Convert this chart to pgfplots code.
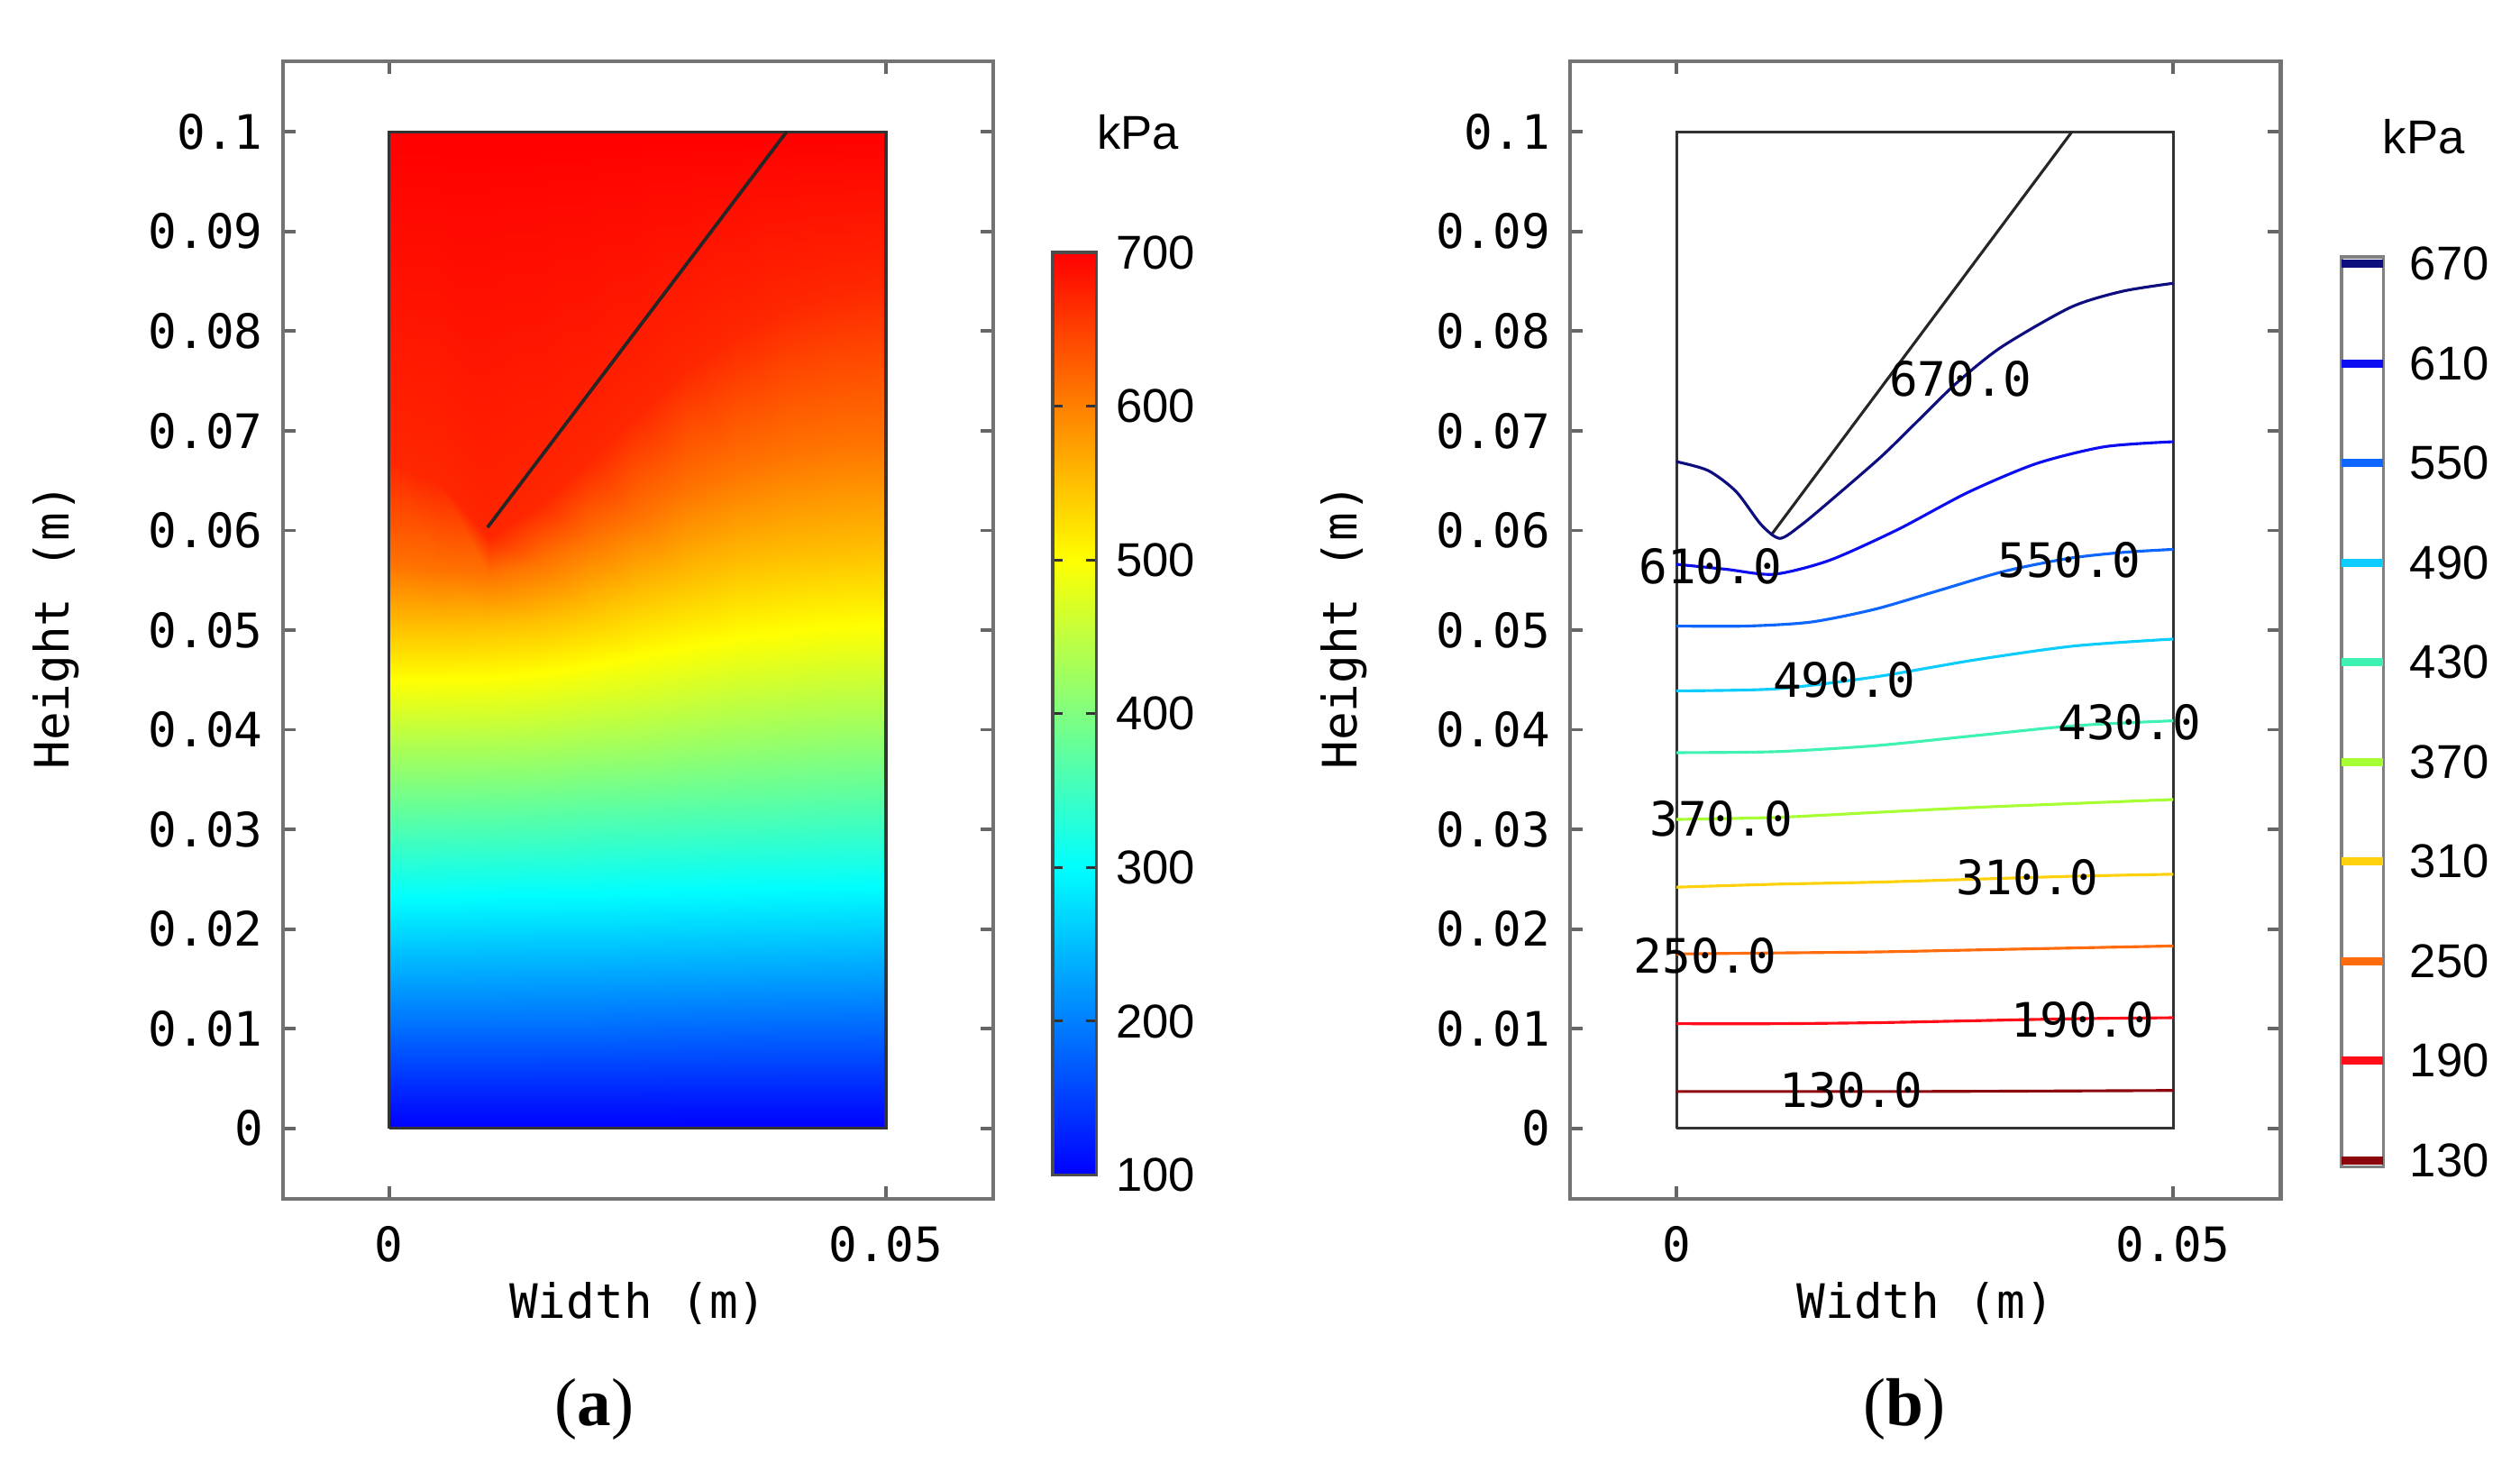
\documentclass[border=0pt]{standalone}
\usepackage{pgfplots}
\pgfplotsset{compat=1.18}
\usepackage{fontspec}
\setmainfont{Liberation Sans}
\newfontfamily\monof{DejaVu Sans Mono}
\newfontfamily\seriff{Liberation Serif}

% contour level colours (reversed jet)
\definecolor{c130}{rgb}{0.55,0.02,0.05}
\definecolor{c190}{rgb}{1,0.05,0.1}
\definecolor{c250}{rgb}{1,0.42,0.05}
\definecolor{c310}{rgb}{1,0.82,0.05}
\definecolor{c370}{rgb}{0.65,1,0.2}
\definecolor{c430}{rgb}{0.25,0.95,0.7}
\definecolor{c490}{rgb}{0.05,0.8,1}
\definecolor{c550}{rgb}{0.05,0.4,1}
\definecolor{c610}{rgb}{0.05,0.05,0.95}
\definecolor{c670}{rgb}{0.05,0.05,0.5}

\newcommand{\lab}{\fontsize{8.4}{10}\selectfont}

\pgfplotsset{
  panel/.style={
    scale only axis, width=44.2mm, height=70.8mm,
    xmin=-0.0107, xmax=0.0608, ymin=-0.0071, ymax=0.1071,
    axis line style={draw=black!55, line width=0.7pt},
    tick style={black!60, line width=0.6pt},
    major tick length=0.8mm,
    tick align=inside,
    scaled ticks=false,
    xtick={0,0.05}, xticklabels={0,0.05},
    ytick={0,0.01,0.02,0.03,0.04,0.05,0.06,0.07,0.08,0.09,0.1},
    yticklabels={0,0.01,0.02,0.03,0.04,0.05,0.06,0.07,0.08,0.09,0.1},
    tick label style={font=\monof\lab},
    xticklabel style={anchor=center, yshift=-2.8mm},
    label style={font=\monof\lab},
    xlabel={Width (m)}, ylabel={Height (m)},
    xlabel style={at={(axis description cs:0.5,-0.092)}, anchor=center},
    ylabel style={at={(axis description cs:-0.319,0.503)}, anchor=center},
    clip=false,
  },
  cline/.style={line width=0.5pt, smooth, tension=0.45},
}

\begin{document}
\begin{tikzpicture}
\useasboundingbox (0,0) rectangle (156.8mm,91mm);

% ---------------- (a) pressure field ----------------
\begin{axis}[panel, at={(17.6mm,16.4mm)}, anchor=south west,
  colormap={rb}{rgb255(0cm)=(0,0,255); rgb255(1cm)=(0,255,255); rgb255(2cm)=(255,255,0); rgb255(3cm)=(255,0,0)},
  point meta min=100, point meta max=700,
  colorbar,
  colorbar shift/.style={xshift=3.7mm, yshift=1.5mm},
  colorbar style={
    at={(parent axis.south east)}, anchor=south west,
    scale only axis, width=2.7mm, height=57.4mm,
    ytick={100,200,300,400,500,600,700},
    yticklabels={100,200,300,400,500,600,700},
    yticklabel style={font=\lab},
    yticklabel pos=right,
    ytick pos=both,
    tick align=inside,
    major tick length=0.6mm,
    tick style={black!80, line width=0.5pt},
    axis line style={black!70, line width=0.5pt},
  },
]
\addplot[surf, shader=interp, point meta=explicit] table[x=x, y=y, meta=p] {
x y p
0 0 100
0 0.0037 130
0 0.0105 190
0 0.0175 250
0 0.0242 310
0 0.0310 370
0 0.0377 430
0 0.0439 490
0 0.0504 550
0 0.0566 610
0 0.0669 670
0 0.1 700

0.005 0 100
0.005 0.0037 130
0.005 0.0105 190
0.005 0.0175 250
0.005 0.0243 310
0.005 0.0311 370
0.005 0.0377 430
0.005 0.0440 490
0.005 0.0504 550
0.005 0.0561 610
0.005 0.0648 670
0.005 0.1 700

0.01 0 100
0.01 0.0037 130
0.01 0.0105 190
0.01 0.0176 250
0.01 0.0245 310
0.01 0.0312 370
0.01 0.0378 430
0.01 0.0441 490
0.01 0.0505 550
0.01 0.0556 610
0.01 0.0593 670
0.01 0.1 700

0.015 0 100
0.015 0.0037 130
0.015 0.0106 190
0.015 0.0177 250
0.015 0.0246 310
0.015 0.0314 370
0.015 0.0380 430
0.015 0.0446 490
0.015 0.0510 550
0.015 0.0568 610
0.015 0.0626 670
0.015 0.1 700

0.02 0 100
0.02 0.0037 130
0.02 0.0106 190
0.02 0.0177 250
0.02 0.0247 310
0.02 0.0317 370
0.02 0.0384 430
0.02 0.0453 490
0.02 0.0521 550
0.02 0.0590 610
0.02 0.0669 670
0.02 0.1 700

0.025 0 100
0.025 0.0037 130
0.025 0.0107 190
0.025 0.0178 250
0.025 0.0249 310
0.025 0.0319 370
0.025 0.0388 430
0.025 0.0461 490
0.025 0.0537 550
0.025 0.0613 610
0.025 0.0718 670
0.025 0.1 700

0.03 0 100
0.03 0.0038 130
0.03 0.0108 190
0.03 0.0179 250
0.03 0.0250 310
0.03 0.0322 370
0.03 0.0394 430
0.03 0.0470 490
0.03 0.0551 550
0.03 0.0641 610
0.03 0.0764 670
0.03 0.1 700

0.035 0 100
0.035 0.0038 130
0.035 0.0109 190
0.035 0.0180 250
0.035 0.0252 310
0.035 0.0324 370
0.035 0.0400 430
0.035 0.0478 490
0.035 0.0565 550
0.035 0.0662 610
0.035 0.0797 670
0.035 0.1 700

0.04 0 100
0.04 0.0038 130
0.04 0.0110 190
0.04 0.0181 250
0.04 0.0253 310
0.04 0.0326 370
0.04 0.0404 430
0.04 0.0484 490
0.04 0.0573 550
0.04 0.0677 610
0.04 0.0825 670
0.04 0.1 700

0.045 0 100
0.045 0.0038 130
0.045 0.0110 190
0.045 0.0182 250
0.045 0.0254 310
0.045 0.0329 370
0.045 0.0408 430
0.045 0.0489 490
0.045 0.0578 550
0.045 0.0686 610
0.045 0.0840 670
0.045 0.1 700

0.05 0 100
0.05 0.0038 130
0.05 0.0111 190
0.05 0.0183 250
0.05 0.0255 310
0.05 0.0330 370
0.05 0.0409 430
0.05 0.0491 490
0.05 0.0581 550
0.05 0.0689 610
0.05 0.0848 670
0.05 0.1 700
};
\addplot[black!80, line width=0.5pt] coordinates {(0,0) (0.05,0) (0.05,0.1) (0,0.1) (0,0)};
\addplot[black!85, line width=0.6pt] coordinates {(0.0099,0.0603) (0.04,0.1)};
\end{axis}

% ---------------- (b) contour lines ----------------
\begin{axis}[panel, at={(97.7mm,16.4mm)}, anchor=south west]
\addplot[black!80, line width=0.5pt] coordinates {(0,0) (0.05,0) (0.05,0.1) (0,0.1) (0,0)};
\addplot[black!85, line width=0.5pt] coordinates {(0.0095,0.0595) (0.0398,0.1)};
\addplot[c130, cline] coordinates {(0,0.0037) (0.025,0.0037) (0.05,0.0038)};
\addplot[c190, cline] coordinates {(0,0.0105) (0.01,0.0105) (0.02,0.0106) (0.03,0.0108) (0.04,0.0110) (0.05,0.0111)};
\addplot[c250, cline] coordinates {(0,0.0175) (0.01,0.0176) (0.02,0.0177) (0.03,0.0179) (0.04,0.0181) (0.05,0.0183)};
\addplot[c310, cline] coordinates {(0,0.0242) (0.01,0.0245) (0.02,0.0247) (0.03,0.0250) (0.04,0.0253) (0.05,0.0255)};
\addplot[c370, cline] coordinates {(0,0.0310) (0.01,0.0312) (0.02,0.0317) (0.03,0.0322) (0.04,0.0326) (0.05,0.0330)};
\addplot[c430, cline] coordinates {(0,0.0377) (0.01,0.0378) (0.02,0.0384) (0.03,0.0394) (0.04,0.0404) (0.05,0.0409)};
\addplot[c490, cline] coordinates {(0,0.0439) (0.01,0.0441) (0.02,0.0453) (0.03,0.0470) (0.04,0.0484) (0.05,0.0491)};
\addplot[c550, cline] coordinates {(0,0.0504) (0.007,0.0504) (0.0135,0.0508) (0.02,0.0521) (0.0265,0.0540) (0.033,0.0559) (0.0395,0.0572) (0.045,0.0578) (0.05,0.0581)};
\addplot[c610, cline] coordinates {(0,0.0566) (0.005,0.0561) (0.0098,0.0556) (0.0154,0.0570) (0.0223,0.0601) (0.0293,0.0638) (0.0362,0.0667) (0.0431,0.0684) (0.05,0.0689)};
\addplot[c670, cline] coordinates {(0,0.0669) (0.0032,0.0660) (0.006,0.0639) (0.0085,0.0606) (0.0104,0.0592) (0.0125,0.0605) (0.0154,0.0629) (0.0206,0.0674) (0.0245,0.0712) (0.0282,0.0748) (0.0327,0.0784) (0.0397,0.0824) (0.0449,0.0840) (0.05,0.0848)};
\begin{scope}[every node/.style={font=\monof\lab, inner sep=0pt}]
\node at (axis cs:0.0286,0.0752) {670.0};
\node at (axis cs:0.0034,0.0564) {610.0};
\node at (axis cs:0.0395,0.0570) {550.0};
\node at (axis cs:0.0169,0.0450) {490.0};
\node at (axis cs:0.0456,0.0407) {430.0};
\node at (axis cs:0.0045,0.0311) {370.0};
\node at (axis cs:0.0353,0.0252) {310.0};
\node at (axis cs:0.0029,0.0173) {250.0};
\node at (axis cs:0.0409,0.0109) {190.0};
\node at (axis cs:0.0176,0.0038) {130.0};
\end{scope}
\end{axis}

% contour colour key
\begin{axis}[at={(145.7mm,18.4mm)}, anchor=south west,
  scale only axis, width=2.6mm, height=56.6mm,
  xmin=0, xmax=1, ymin=126, ymax=674,
  xtick=\empty,
  ytick={130,190,250,310,370,430,490,550,610,670},
  yticklabels={130,190,250,310,370,430,490,550,610,670},
  yticklabel pos=right, ytick pos=right,
  major tick length=0pt,
  yticklabel style={font=\lab, xshift=0.4mm},
  axis line style={black!50, line width=0.6pt},
]
\addplot[c130, line width=1.4pt] coordinates {(0,130) (1,130)};
\addplot[c190, line width=1.4pt] coordinates {(0,190) (1,190)};
\addplot[c250, line width=1.4pt] coordinates {(0,250) (1,250)};
\addplot[c310, line width=1.4pt] coordinates {(0,310) (1,310)};
\addplot[c370, line width=1.4pt] coordinates {(0,370) (1,370)};
\addplot[c430, line width=1.4pt] coordinates {(0,430) (1,430)};
\addplot[c490, line width=1.4pt] coordinates {(0,490) (1,490)};
\addplot[c550, line width=1.4pt] coordinates {(0,550) (1,550)};
\addplot[c610, line width=1.4pt] coordinates {(0,610) (1,610)};
\addplot[c670, line width=1.4pt] coordinates {(0,670) (1,670)};
\end{axis}

\node[font=\lab] at (70.8mm,82.8mm) {kPa};
\node[font=\lab] at (150.8mm,82.5mm) {kPa};
\node[font=\seriff\fontsize{12}{14}\selectfont] at (37mm,3.3mm) {(\textbf{a})};
\node[font=\seriff\fontsize{12}{14}\selectfont] at (118.5mm,3.3mm) {(\textbf{b})};
\end{tikzpicture}
\end{document}
